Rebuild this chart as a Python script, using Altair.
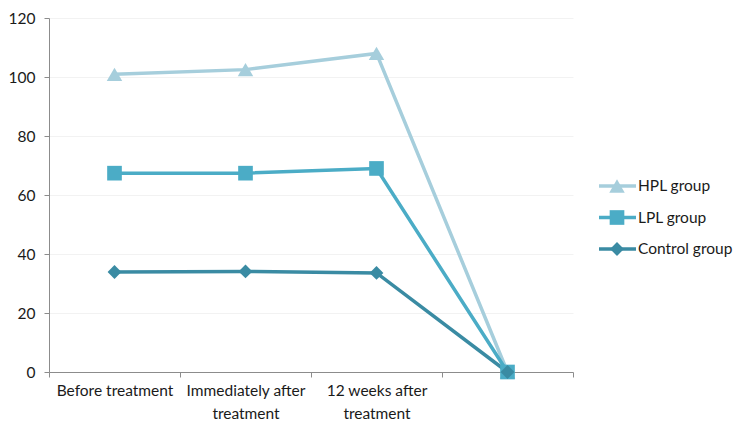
import altair as alt
import pandas as pd

categories = ["Before treatment", "Immediately after treatment", "12 weeks after treatment", "blank"]
series = ["HPL group", "LPL group", "Control group"]
hpl = [100.9, 102.5, 108.0, 0]
lpl = [67.4, 67.4, 69.0, 0]
control = [33.9, 34.1, 33.6, 0]
y_ticks = [0, 20, 40, 60, 80, 100, 120]

colors = ["#A6CEDC", "#4BACC6", "#3A8BA3"]
shapes = ["triangle-up", "square", "diamond"]
sizes = [240, 190, 150]

rows = []
for s, vals in zip(series, [hpl, lpl, control]):
    for c, v in zip(categories, vals):
        rows.append({"series": s, "category": c, "value": v})
df = pd.DataFrame(rows)

FONT = "Lato"
FS = 15.5
AXIS_GREY = "#8C8C8C"

label_expr = (
    "datum.value == 'Immediately after treatment' ? ['Immediately after', 'treatment'] : "
    "datum.value == '12 weeks after treatment' ? ['12 weeks after', 'treatment'] : "
    "datum.value == 'blank' ? '' : datum.label"
)

x = alt.X(
    "category:N",
    sort=categories,
    scale=alt.Scale(type="band", domain=categories, paddingInner=0, paddingOuter=0),
    axis=alt.Axis(
        title=None, labelAngle=0, tickBand="extent", domainColor=AXIS_GREY,
        tickColor=AXIS_GREY, tickSize=5, labelPadding=6, labelFontSize=FS,
        labelFont=FONT, labelColor="#1a1a1a", labelLimit=300, labelExpr=label_expr,
        labelLineHeight=23, labelBaseline="top", grid=False,
    ),
)
y = alt.Y(
    "value:Q",
    scale=alt.Scale(domain=[0, 120], nice=False),
    axis=alt.Axis(
        title=None, values=y_ticks, grid=True, gridColor="#F2F2F2",
        domainColor=AXIS_GREY, tickColor=AXIS_GREY, tickSize=5, labelPadding=9,
        labelFontSize=FS, labelFont=FONT, labelColor="#1a1a1a",
    ),
)
color = alt.Color("series:N", scale=alt.Scale(domain=series, range=colors), legend=None)
shape = alt.Shape("series:N", scale=alt.Scale(domain=series, range=shapes), legend=None)
size = alt.Size("series:N", scale=alt.Scale(domain=series, range=sizes), legend=None)

base = alt.Chart(df)
lines = base.mark_line(strokeWidth=3.5).encode(x=x, y=y, color=color)
points = base.mark_point(filled=True, opacity=1).encode(x=x, y=y, color=color, shape=shape, size=size)

# legend rows (pixel positions inside the plot area)
legend_rows_y = [168, 199.5, 231]
legend_layers = []
for s, ypix in zip(series, legend_rows_y):
    d = alt.Chart(pd.DataFrame({"series": [s]}))
    legend_layers.append(d.mark_rule(strokeWidth=3.5).encode(
        x=alt.value(550), x2=alt.value(587), y=alt.value(ypix), color=color))
    legend_layers.append(d.mark_point(filled=True, opacity=1).encode(
        x=alt.value(568), y=alt.value(ypix), color=color, shape=shape, size=size))
    legend_layers.append(d.mark_text(align="left", baseline="middle", fontSize=FS, font=FONT,
                                     color="#1a1a1a").encode(
        x=alt.value(589), y=alt.value(ypix), text="series:N"))

chart = alt.layer(lines, points, *legend_layers).properties(
    width=524, height=354,
    background="white",
    view=alt.ViewBackground(stroke="transparent", strokeWidth=0),
    autosize=alt.AutoSizeParams(type="none"),
    padding={"left": 41, "top": 10, "right": 163, "bottom": 56},
).configure_view(strokeWidth=0, stroke="transparent").configure_axisX(grid=False)

chart.save("out.html", embed_options={"renderer": "svg", "actions": False})
